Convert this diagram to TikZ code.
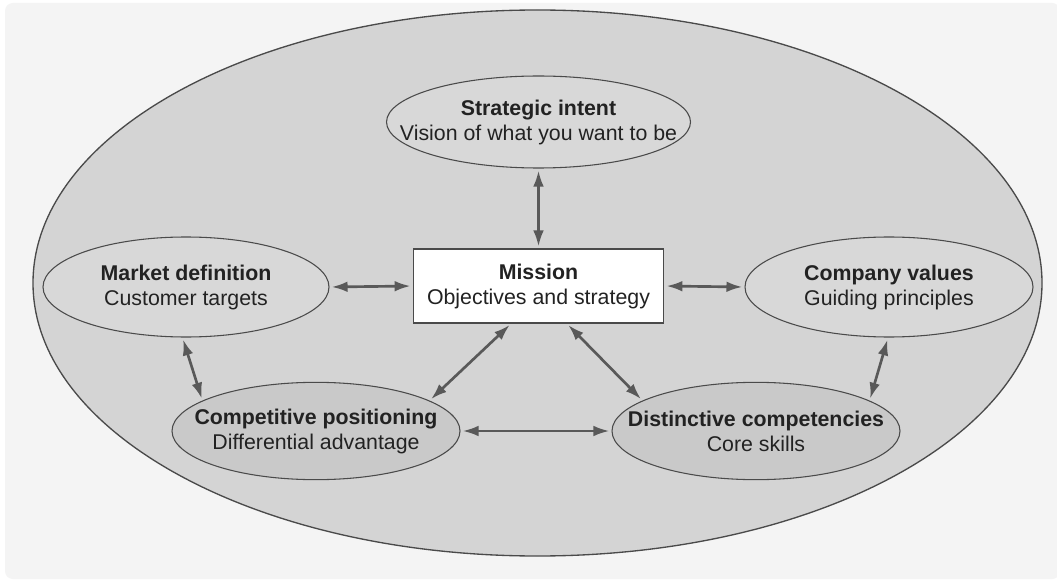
\documentclass[tikz,border=0pt]{standalone}
\usepackage{fontspec}
\setmainfont{Liberation Sans}
\usetikzlibrary{shapes.geometric,arrows.meta}

\definecolor{panel}{HTML}{F4F4F4}
\definecolor{outerfill}{HTML}{D4D4D4}
\definecolor{upperfill}{HTML}{D8D8D8}
\definecolor{lowerfill}{HTML}{C9C9C9}
\definecolor{edge}{HTML}{4A4A4A}
\definecolor{linkcol}{HTML}{595959}
\definecolor{ink}{HTML}{222222}

\tikzset{
  outerring/.style={ellipse, draw=edge, line width=1pt, fill=outerfill,
    inner sep=0pt, minimum width=756.75pt, minimum height=409.5pt},
  upperbub/.style={ellipse, draw=edge, line width=0.8pt, fill=upperfill,
    inner sep=0pt},
  lowerbub/.style={ellipse, draw=edge, line width=0.8pt, fill=lowerfill,
    inner sep=0pt, minimum width=216pt, minimum height=73pt},
  corebox/.style={rectangle, draw=edge, line width=0.8pt, fill=white,
    inner sep=0pt, minimum width=188pt, minimum height=55.5pt},
  caption/.style={align=center, text=ink,
    font=\fontsize{16}{18.75}\selectfont},
  link/.style={draw=linkcol, line width=2pt,
    {Latex[length=12pt,width=8pt]}-{Latex[length=12pt,width=8pt]},
    shorten <=1.5pt, shorten >=1.5pt}
}

\begin{document}
\begin{tikzpicture}[x=0.75pt,y=-0.75pt]
  \useasboundingbox (0,0) rectangle (1057,581);
  \fill[white] (0,0) rectangle (1057,581);
  \fill[panel, rounded corners=6pt] (5,3) rectangle (1060,579);

  % enclosing ellipse
  \node[outerring] (frame) at (537.5,283) {};

  % surrounding elements
  \node[upperbub, minimum width=228pt, minimum height=69pt] (si) at (538.5,122) {};
  \node[upperbub, minimum width=214.5pt, minimum height=75pt] (mkt) at (186,287) {};
  \node[upperbub, minimum width=216pt, minimum height=75pt] (cv) at (889,287) {};
  \node[lowerbub] (cp) at (316,431) {};
  \node[lowerbub] (dc) at (756,431) {};
  \node[corebox] (mis) at (538.5,286) {};

  % captions
  \node[caption] at (si) {\textbf{Strategic intent}\\Vision of what you want to be};
  \node[caption] at (mkt) {\textbf{Market definition}\\Customer targets};
  \node[caption] at (cv) {\textbf{Company values}\\Guiding principles};
  \node[caption] at (cp) {\textbf{Competitive positioning}\\Differential advantage};
  \node[caption] at (dc) {\textbf{Distinctive competencies}\\Core skills};
  \node[caption] at (mis) {\textbf{Mission}\\Objectives and strategy};

  % two-way links
  \draw[link] (si.south) -- (mis.north);
  \draw[link] (mkt.east) -- (mis.west);
  \draw[link] (mis.east) -- (cv.west);
  \draw[link] (mkt.-94) -- (cp.165);
  \draw[link] (mis.-126.6) -- (cp.15);
  \draw[link] (mis.-53.4) -- (dc.165);
  \draw[link] (cv.-91) -- (dc.15);
  \draw[link] (cp.east) -- (dc.west);
\end{tikzpicture}
\end{document}
